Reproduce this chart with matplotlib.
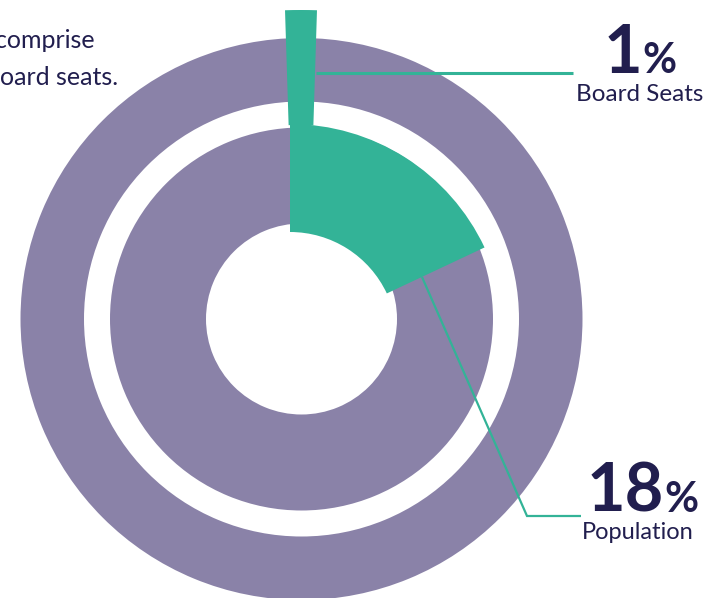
import matplotlib.pyplot as plt

# shares shown in the chart (percent)
board_share = 1
population_share = 18
board_label = "Board Seats"
population_label = "Population"
note_lines = ["comprise", "board seats."]

purple = '#8a82a8'
green = '#33b397'
navy = '#211e4e'

H = 598  # picture height in px, y is flipped so pixel rows read top-down


def py(y):
	return H - y


fig = plt.figure(figsize=(7.06, 5.98), dpi=100)
ax = fig.add_axes([0, 0, 1, 1])

# purple rings (full circles)
ax.pie([100], radius=281, center=(301.5, py(319)), colors=[purple],
	wedgeprops=dict(width=63.5, linewidth=0))
ax.pie([100], radius=191.5, center=(301.5, py(319)), colors=[purple],
	wedgeprops=dict(width=96, linewidth=0))

# population wedge
ax.pie([population_share, 100 - population_share], radius=215, center=(290, py(339)),
	startangle=90, counterclock=False, colors=[green, 'none'],
	wedgeprops=dict(width=108, linewidth=0))

# board seats sliver
ax.pie([board_share, 100 - board_share], radius=509, center=(301, py(519)),
	startangle=90 + board_share * 1.8, counterclock=False, colors=[green, 'none'],
	wedgeprops=dict(width=115, linewidth=0))

# leader lines
ax.plot([316, 573], [py(72.5), py(72.5)], color=green, lw=2.2, solid_capstyle='butt')
ax.plot([422, 527, 581], [py(277), py(516), py(516)], color=green, lw=1.6,
	solid_capstyle='butt', solid_joinstyle='miter')

# labels
ax.text(604, py(73), f"{board_share}", fontsize=48, fontweight='bold', family='Lato',
	color=navy, va='baseline', ha='left')
ax.text(642, py(73), "%", fontsize=30, fontweight='bold', family='Lato',
	color=navy, va='baseline', ha='left')
ax.text(576, py(101), board_label, fontsize=17.5, family='Lato',
	color=navy, va='baseline', ha='left')

ax.text(587, py(512), f"{population_share}", fontsize=48, fontweight='bold', family='Lato',
	color=navy, va='baseline', ha='left')
ax.text(664, py(512), "%", fontsize=30, fontweight='bold', family='Lato',
	color=navy, va='baseline', ha='left')
ax.text(582, py(539), population_label, fontsize=17, family='Lato',
	color=navy, va='baseline', ha='left')

ax.text(95, py(48), note_lines[0], fontsize=18, family='Lato',
	color=navy, va='baseline', ha='right')
ax.text(118, py(85), note_lines[1], fontsize=18, family='Lato',
	color=navy, va='baseline', ha='right')

ax.set_xlim(0, 706)
ax.set_ylim(0, H)
ax.set_aspect('equal')
ax.axis('off')

fig.savefig('out.png', dpi=100)
